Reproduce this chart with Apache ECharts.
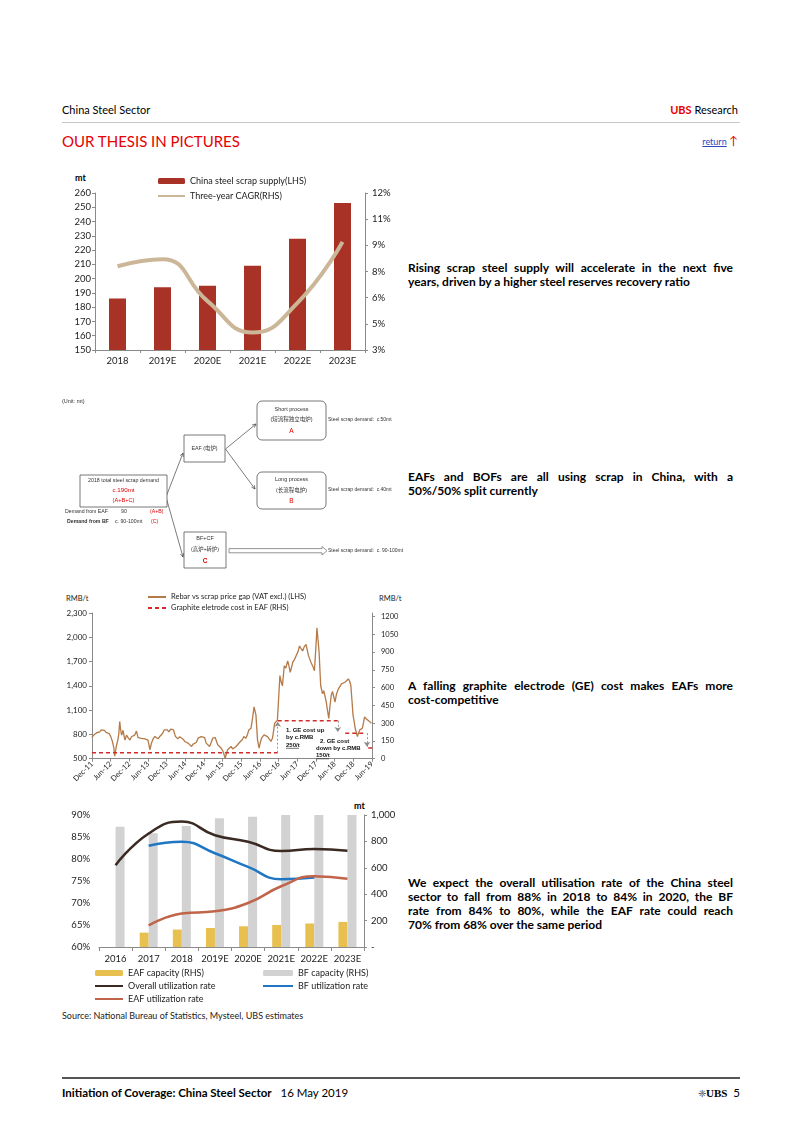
<!DOCTYPE html>
<html><head><meta charset="utf-8">
<script src="https://cdn.jsdelivr.net/npm/echarts@6/dist/echarts.min.js"></script>
<style>
body{margin:0;width:802px;height:1133px;position:relative;background:#fff;font-family:Lato,'Noto Sans',sans-serif;color:#000;overflow:hidden}
.abs{position:absolute;white-space:nowrap}
.para{position:absolute;left:408px;width:325px;font-weight:bold;font-size:12px;line-height:14px}
.para div{text-align:justify;text-align-last:justify}
.para div.last{text-align-last:left}
.ch{position:absolute}
</style></head>
<body>
<div class="abs" style="left:62px;top:103px;font-size:11px;line-height:14px">China Steel Sector</div>
<div class="abs" style="right:64px;top:103px;font-size:11px;line-height:14px"><b style="color:#e60000">UBS</b> Research</div>
<div class="abs" style="left:62px;top:122px;width:678px;height:1px;background:#c8c8c8"></div>
<div class="abs" style="left:62px;top:131px;font-size:15px;line-height:20px;color:#e60000">OUR THESIS IN PICTURES</div>
<div class="abs" style="right:64px;top:134px;font-size:9px;line-height:14px"><span style="color:#2a46c0;text-decoration:underline">return</span>&nbsp;<span style="color:#e60000;font-size:12px">↑</span></div>

<div class="abs" style="left:75px;top:172px;font-size:9px;font-weight:bold;line-height:12px">mt</div>
<div id="c1" class="ch" style="left:55px;top:165px;width:350px;height:210px"></div>
<div class="para" style="top:261px"><div>Rising scrap steel supply will accelerate in the next five</div><div class="last">years, driven by a higher steel reserves recovery ratio</div></div>

<div id="c2" class="ch" style="left:55px;top:390px;width:350px;height:185px"></div>
<div class="para" style="top:470px"><div>EAFs and BOFs are all using scrap in China, with a</div><div class="last">50%/50% split currently</div></div>

<div class="abs" style="left:66px;top:594px;font-size:7.5px;line-height:10px;color:#222">RMB/t</div>
<div class="abs" style="left:379px;top:594px;font-size:7.5px;line-height:10px;color:#222">RMB/t</div>
<div id="c3" class="ch" style="left:55px;top:590px;width:350px;height:195px"></div>
<div class="para" style="top:679px"><div>A falling graphite electrode (GE) cost makes EAFs more</div><div class="last">cost-competitive</div></div>

<div class="abs" style="left:354px;top:800px;font-size:9px;font-weight:bold;line-height:12px">mt</div>
<div id="c4" class="ch" style="left:55px;top:800px;width:350px;height:210px"></div>
<div class="para" style="top:876px"><div>We expect the overall utilisation rate of the China steel</div><div>sector to fall from 88% in 2018 to 84% in 2020, the BF</div><div>rate from 84% to 80%, while the EAF rate could reach</div><div class="last">70% from 68% over the same period</div></div>

<div class="abs" style="left:62px;top:1010px;font-size:9px;line-height:12px;color:#222">Source: National Bureau of Statistics, Mysteel, UBS estimates</div>

<div class="abs" style="left:62px;top:1077px;width:678px;height:1.5px;background:#555"></div>
<div class="abs" style="left:62px;top:1085px;font-size:11.5px;line-height:15px"><b>Initiation of Coverage: China Steel Sector</b>&nbsp;&nbsp; 16 May 2019</div>
<div class="abs" style="right:62px;top:1085px;font-size:11.5px;line-height:15px"><span style="color:#555;font-size:10px">❈</span><span style="font-family:'Liberation Serif',serif;font-weight:bold;font-size:11px">UBS</span>&nbsp; 5</div>

<script>
const F = "Lato, 'Noto Sans', sans-serif";
const DF = "'Liberation Sans Narrow','Liberation Sans','Noto Sans CJK SC',sans-serif";

// ---- Chart 1 data ----
const c1Years = ['2018','2019E','2020E','2021E','2022E','2023E'];
const c1Scrap = [186,194,195,209,228,253];
const c1Cagr = [7.8,8.2,5.8,4.0,5.7,9.2];

// ---- Chart 3 data ----
const dateTicks = ['Dec-11','Jun-12','Dec-12','Jun-13','Dec-13','Jun-14','Dec-14','Jun-15','Dec-15','Jun-16','Dec-16','Jun-17','Dec-17','Jun-18','Dec-18','Jun-19'];
const gapMonths = [0,0.5,1,1.5,2,2.5,3,3.5,4,4.5,5,5.5,6,6.5,7,7.3,7.8,8.3,8.6,8.9,9.2,9.5,10,10.3,10.6,11.1,11.6,12.2,12.7,13.2,13.7,14.3,14.8,15.3,15.9,16.5,17,17.5,18,18.6,19.1,19.6,20.2,20.7,21.2,21.7,22.3,22.8,23.2,23.7,24.2,24.7,25.3,25.7,26.2,26.8,27.2,27.6,28.2,28.7,29.3,29.8,30.3,30.9,31.5,32,32.5,33,33.5,34.1,34.6,35.1,35.6,36.2,36.7,37.2,37.8,38.3,38.8,39.2,39.6,40.4,41,41.5,42,42.3,42.8,43.2,43.6,44.2,44.7,45.2,45.8,46.3,46.8,47.4,47.9,48.4,48.8,49.5,50,50.4,50.8,51.1,51.6,52.1,52.7,53.2,53.7,54.1,54.5,55,55.3,55.9,56.4,57,57.5,58,58.4,58.7,59.2,59.6,60.1,60.4,60.8,61.2,61.5,61.8,62.3,62.9,63.3,63.7,64.1,64.5,65,65.6,66.2,66.7,67.2,67.7,68.2,68.8,69.2,69.6,70,70.4,71,71.5,72,72.3,72.7,73,73.5,74.1,74.5,74.9,75.3,75.6,76.1,76.5,76.9,77.3,77.6,78.1,78.6,79.2,79.7,80.2,80.8,81.3,81.8,82.4,82.8,83.2,83.6,83.9,84.3,84.6,85,85.3,85.7,86.1,86.5,86.9,87.3,87.6,88.2,88.7,89.2,89.8];
const gapValues = [760,790,770,820,840,830,855,840,850,825,835,810,775,720,640,530,650,730,800,960,860,790,850,780,730,790,760,730,770,750,790,840,760,780,750,770,745,760,730,610,690,740,775,760,745,770,795,820,855,840,855,830,865,850,855,775,760,745,770,760,740,712,720,692,700,651,680,664,700,753,740,773,760,761,692,680,651,700,753,740,761,671,660,631,600,570,505,560,610,590,651,620,631,650,671,700,692,740,773,753,800,854,830,875,997,1140,1038,732,631,700,753,770,794,780,773,740,712,753,850,936,960,977,1323,1526,1450,1400,1520,1648,1620,1709,1650,1566,1620,1689,1720,1770,1820,1892,1860,1831,1880,1913,1840,1770,1730,1689,1640,1587,1900,2117,1950,1811,1404,1302,1340,1363,1200,1119,997,1150,1282,1330,1343,1200,1300,1363,1340,1424,1400,1444,1420,1485,1460,1404,1200,1038,950,875,820,773,820,855,840,875,950,1017,990,977,960,936];
const geStart = [0,59.7,81.4,88.8];
const geEnd = [59.7,79,88,91.5];
const geCost = [50,320,215,90];
const leftTicks3 = [500,800,1100,1400,1700,2000,2300];
const rightTicks3 = [0,150,300,450,600,750,900,1050,1200];

// ---- Chart 4 data ----
const c4Years = ['2016','2017','2018','2019E','2020E','2021E','2022E','2023E'];
const eafCap = [null,109,132,144,157,167,178,190];
const bfCap = [911,861,916,975,987,1000,1000,1000];
const overallUtil = [78.6,85.8,88.5,85.4,83.9,81.8,82.3,81.9];
const bfUtil = [null,83.0,83.9,81.3,78.2,75.4,75.8,null];
const eafUtil = [null,64.9,67.6,68.1,70.0,73.8,76.1,75.5];

const AX = '#8a8a8a', LBL = '#222';
const lineItem = name => ({name:name, itemStyle:{opacity:0}});

// ===== Chart 1 =====
echarts.init(document.getElementById('c1')).setOption({
  animation:false,
  textStyle:{fontFamily:F},
  legend:{left:102, top:10, padding:0, orient:'vertical', itemWidth:27, itemHeight:6, itemGap:3,
    textStyle:{fontSize:9, color:LBL, lineHeight:12},
    data:['China steel scrap supply(LHS)', lineItem('Three-year CAGR(RHS)')]},
  grid:{left:40, right:40, top:28, bottom:25},
  xAxis:{type:'category', data:c1Years,
    axisLine:{lineStyle:{color:AX}}, axisTick:{show:true, length:3, lineStyle:{color:AX}},
    axisLabel:{color:LBL, fontSize:9.5, margin:6, interval:0}},
  yAxis:[
    {type:'value', min:150, max:260, interval:10, splitLine:{show:false},
     axisLine:{show:true, lineStyle:{color:AX}}, axisTick:{show:true, length:3, lineStyle:{color:AX}},
     axisLabel:{color:LBL, fontSize:9.5, margin:4}},
    {type:'value', min:3, max:12, interval:1.5, position:'right', splitLine:{show:false},
     axisLine:{show:true, lineStyle:{color:AX}}, axisTick:{show:true, length:3, lineStyle:{color:AX}},
     axisLabel:{color:LBL, fontSize:9.5, margin:7, formatter:v=>Math.round(v)+'%'}}
  ],
  series:[
    {name:'China steel scrap supply(LHS)', type:'bar', data:c1Scrap, barWidth:17, itemStyle:{color:'#a93226'}},
    {name:'Three-year CAGR(RHS)', type:'line', yAxisIndex:1, data:c1Cagr, smooth:true, symbol:'none',
     lineStyle:{width:4, color:'#cbb797'}, itemStyle:{color:'#cbb797'}}
  ]
});

// ===== Chart 2 (diagram) =====
(function(){
  const ox=55, oy=390, els=[];
  const gray='#333', red='#e00000';
  function T(x,y,s,o){o=o||{};els.push({type:'text', x:x-ox, y:y-oy, z:10, style:{text:s, fill:o.c||gray,
    font:(o.b?'bold ':'')+(o.s||5.3)+'px '+DF, textAlign:o.a||'left', align:o.a||'left', textVerticalAlign:'middle', verticalAlign:'middle'}});}
  function R(x,y,w,h,r){els.push({type:'rect', shape:{x:x-ox,y:y-oy,width:w,height:h,r:r||0}, style:{fill:'#fff', stroke:'#555', lineWidth:0.8}});}
  function A(x1,y1,x2,y2){
    els.push({type:'line', shape:{x1:x1-ox,y1:y1-oy,x2:x2-ox,y2:y2-oy}, style:{stroke:'#444', lineWidth:0.7}});
    const a=Math.atan2(y2-y1,x2-x1), s=4;
    els.push({type:'polyline', shape:{points:[[x2-ox-s*Math.cos(a-0.45),y2-oy-s*Math.sin(a-0.45)],[x2-ox,y2-oy],[x2-ox-s*Math.cos(a+0.45),y2-oy-s*Math.sin(a+0.45)]]}, style:{stroke:'#444', lineWidth:0.7, fill:null}});
  }
  T(62,401,'(Unit: mt)',{s:5.5});
  A(166,497,183,453); A(166,497,183,557);
  A(225.5,449,256,424); A(225.5,449,255,489);
  R(80,475,87,32);
  T(123.5,481,'2018 total steel scrap demand',{a:'center',s:5.3});
  T(123.5,490,'c.190mt',{a:'center',c:red,s:6.2});
  T(123.5,500,'(A+B+C)',{a:'center',c:red,s:5.6});
  T(65,512,'Demand from EAF',{s:5.2}); T(121,512,'90',{s:5.2}); T(150,512,'(A+B)',{s:5.2,c:red});
  T(67,522,'Demand from BF',{s:5.2,b:true}); T(115,522,'c. 90-100mt',{s:5.2}); T(151,522,'(C)',{s:5.2,c:red});
  R(184,435,41,27); T(204.5,448.5,'EAF (电炉)',{a:'center',s:5.3});
  R(257,401,69,39,5);
  T(291.5,409,'Short process',{a:'center',s:5.5}); T(291.5,419.5,'(短流程独立电炉)',{a:'center',s:5.5}); T(291.5,431.5,'A',{a:'center',c:red,s:6.5});
  R(257,472,69,37,5);
  T(291.5,479.5,'Long process',{a:'center',s:5.5}); T(291.5,490,'(长流程电炉)',{a:'center',s:5.5}); T(291.5,501.5,'B',{a:'center',c:red,s:6.5});
  R(184,532,42,36);
  T(205,538.5,'BF+CF',{a:'center',s:5.5}); T(205,550,'(高炉+转炉)',{a:'center',s:5.3}); T(205,561.5,'C',{a:'center',c:red,s:6.5,b:true});
  T(328,419.5,'Steel scrap demand:  c.50mt',{s:5});
  T(328,490,'Steel scrap demand:  c.40mt',{s:5});
  T(328,550.7,'Steel scrap demand:  c. 90-100mt',{s:5});
  els.push({type:'polygon', shape:{points:[[229-ox,548.6-oy],[322-ox,548.6-oy],[322-ox,546.5-oy],[327-ox,550.7-oy],[322-ox,555-oy],[322-ox,552.8-oy],[229-ox,552.8-oy]]}, style:{fill:'#fff', stroke:'#666', lineWidth:0.7}});
  echarts.init(document.getElementById('c2')).setOption({animation:false, graphic:els});
})();

// ===== Chart 3 =====
(function(){
  const ox=55, oy=590;
  const gapData = gapMonths.map((m,i)=>[m, gapValues[i]]);
  const geData = [];
  geStart.forEach((s,i)=>{ geData.push([s, geCost[i]], [geEnd[i], geCost[i]], [geEnd[i], '-']); });
  const annF = "bold 6px "+DF;
  function AT(x,y,s){return {type:'text', x:x-ox, y:y-oy, z:20, style:{text:s, fill:'#111', font:annF, textVerticalAlign:'middle', verticalAlign:'middle'}};}
  function UL(x,y,w){return {type:'line', z:20, shape:{x1:x-ox,y1:y-oy,x2:x+w-ox,y2:y-oy}, style:{stroke:'#111', lineWidth:0.6}};}
  echarts.init(document.getElementById('c3')).setOption({
    animation:false,
    textStyle:{fontFamily:F},
    legend:{left:92, top:2, padding:0, orient:'vertical', itemWidth:18, itemHeight:6, itemGap:1,
      textStyle:{fontSize:7.5, color:LBL, lineHeight:10},
      data:[lineItem('Rebar vs scrap price gap (VAT excl.) (LHS)'), lineItem('Graphite eletrode cost in EAF (RHS)')]},
    grid:{left:37, right:33, top:23, bottom:24},
    xAxis:{type:'value', min:0, max:90, interval:6, splitLine:{show:false},
      axisLine:{show:true, onZero:false, lineStyle:{color:AX}}, axisTick:{show:true, length:3, lineStyle:{color:AX}},
      axisLabel:{rotate:45, fontSize:7.5, color:LBL, margin:4, formatter:v=>dateTicks[Math.round(v/6)]||''}},
    yAxis:[
      {type:'value', min:500, max:2300, splitLine:{show:false},
       axisLine:{show:true, lineStyle:{color:AX}}, axisTick:{show:true, length:3, lineStyle:{color:AX}, customValues:leftTicks3},
       axisLabel:{customValues:leftTicks3, fontSize:8, color:LBL, margin:5, formatter:v=>v.toLocaleString('en-US')}},
      {type:'value', min:0, max:1230, position:'right', splitLine:{show:false},
       axisLine:{show:true, lineStyle:{color:AX}}, axisTick:{show:true, length:3, lineStyle:{color:AX}, customValues:rightTicks3},
       axisLabel:{customValues:rightTicks3, fontSize:7.5, color:LBL, margin:9, formatter:v=>String(v)}}
    ],
    series:[
      {name:'Rebar vs scrap price gap (VAT excl.) (LHS)', type:'line', data:gapData, symbol:'none',
       lineStyle:{width:1.3, color:'#b47a48'}, itemStyle:{color:'#b47a48'}},
      {name:'Graphite eletrode cost in EAF (RHS)', type:'line', yAxisIndex:1, data:geData, symbol:'none', clip:false,
       connectNulls:false, lineStyle:{width:1.5, color:'#d42a2a', type:[4,3]}, itemStyle:{color:'#d42a2a'},
       markLine:{silent:true, symbol:['none','arrow'], symbolSize:[5,5], label:{show:false},
         lineStyle:{type:[2,2], color:'#8a8a8a', width:0.9},
         data:[
           [{coord:[59.7,geCost[0]]},{coord:[59.7,geCost[1]-8]}],
           [{coord:[79,geCost[1]]},{coord:[79,geCost[2]+10]}],
           [{coord:[88.4,geCost[2]]},{coord:[88.4,geCost[3]+10]}]
         ]}}
    ],
    graphic:[
      AT(286,730,'1. GE cost up'), AT(286,737.5,'by c.RMB'), AT(286,745,'250/t'), UL(286,748.3,13),
      AT(320,741.5,'2. GE cost'), AT(316,748.5,'down by c.RMB'), AT(316,755.5,'150/t'), UL(316,758.8,13)
    ]
  });
})();

// ===== Chart 4 =====
echarts.init(document.getElementById('c4')).setOption({
  animation:false,
  textStyle:{fontFamily:F},
  legend:[
    {left:39, top:167, padding:0, orient:'vertical', itemWidth:28, itemHeight:6, itemGap:1,
     textStyle:{fontSize:9, color:LBL, lineHeight:12},
     data:['EAF capacity (RHS)', lineItem('Overall utilization rate'), lineItem('EAF utilization rate')]},
    {left:207, top:167, padding:0, orient:'vertical', itemWidth:30, itemHeight:6, itemGap:1,
     textStyle:{fontSize:9, color:LBL, lineHeight:12},
     data:['BF capacity (RHS)', lineItem('BF utilization rate')]}
  ],
  grid:{left:44, right:41, top:15, bottom:63},
  xAxis:{type:'category', data:c4Years,
    axisLine:{lineStyle:{color:AX}}, axisTick:{show:true, length:4, lineStyle:{color:AX}},
    axisLabel:{color:LBL, fontSize:9.5, margin:7, interval:0}},
  yAxis:[
    {type:'value', min:60, max:90, interval:5, splitLine:{show:false},
     axisLine:{show:false}, axisTick:{show:false},
     axisLabel:{color:LBL, fontSize:9.5, margin:9, formatter:v=>v+'%'}},
    {type:'value', min:0, max:1000, interval:200, position:'right', splitLine:{show:false},
     axisLine:{show:true, lineStyle:{color:AX}}, axisTick:{show:true, length:3, lineStyle:{color:AX}},
     axisLabel:{color:LBL, fontSize:9.5, margin:7, formatter:v=>v===0?'-':v.toLocaleString('en-US')}}
  ],
  series:[
    {name:'EAF capacity (RHS)', type:'bar', yAxisIndex:1, data:eafCap, barWidth:9, barGap:'0%', itemStyle:{color:'#e8c050'}},
    {name:'BF capacity (RHS)', type:'bar', yAxisIndex:1, data:bfCap, barWidth:9, barGap:'0%', itemStyle:{color:'#d2d2d2'}},
    {name:'Overall utilization rate', type:'line', data:overallUtil, smooth:true, symbol:'none', z:5,
     lineStyle:{width:2.5, color:'#3a2a22'}, itemStyle:{color:'#3a2a22'}},
    {name:'BF utilization rate', type:'line', data:bfUtil, smooth:true, symbol:'none', z:5,
     lineStyle:{width:2.5, color:'#1f77c4'}, itemStyle:{color:'#1f77c4'}},
    {name:'EAF utilization rate', type:'line', data:eafUtil, smooth:true, symbol:'none', z:5,
     lineStyle:{width:2.5, color:'#c0654a'}, itemStyle:{color:'#c0654a'}}
  ]
});
</script>
</body></html>
